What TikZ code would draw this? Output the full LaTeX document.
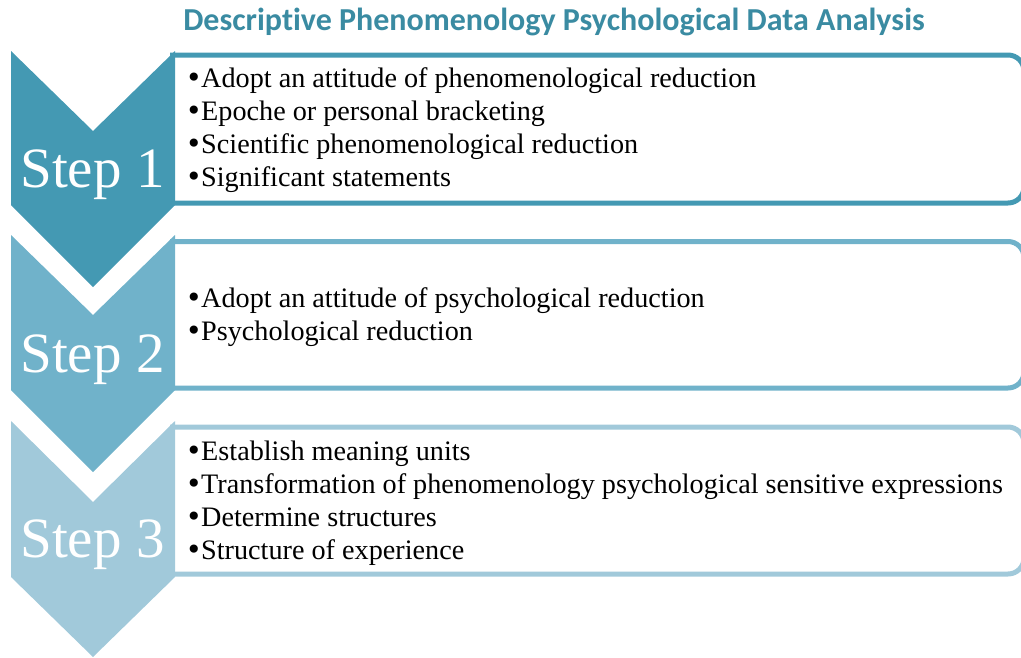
\documentclass[tikz,border=0pt]{standalone}
\usepackage{fontspec}
\setmainfont{Liberation Serif}
\newfontfamily\titlefont[Ligatures=NoCommon]{Carlito}
\newfontfamily\bulletfont{DejaVu Sans}
\newcommand\mybul{\kern-1.5pt{\bulletfont\fontsize{28}{28}\selectfont •}\kern-1pt}
\definecolor{c1}{HTML}{4499B3}
\definecolor{c2}{HTML}{70B2CA}
\definecolor{c3}{HTML}{A1C9DA}
\definecolor{ctitle}{HTML}{3A8BA2}
\begin{document}
\begin{tikzpicture}[x=1pt,y=-1pt,
  box/.style={line width=5pt, fill=white, rounded corners=16pt},
  item/.style={anchor=base west, inner sep=0pt, font=\fontsize{28.2}{33}\selectfont},
  steplbl/.style={text=white, inner sep=0pt, anchor=base, font=\fontsize{57}{60}\selectfont},
  titlelbl/.style={text=ctitle, inner sep=0pt, anchor=base, font=\titlefont\bfseries\fontsize{32}{34}\selectfont}]
\useasboundingbox (0,0) rectangle (1021,657);
\node[titlelbl] (title) at (554,30) {Descriptive Phenomenology Psychological Data Analysis};
% boxes (open on the left, under the chevrons)
\filldraw[box, draw=c1] (170,55) -- (1024,55) -- (1024,203) -- (170,203);
\filldraw[box, draw=c2] (170,241.5) -- (1024,241.5) -- (1024,388) -- (170,388);
\filldraw[box, draw=c3] (170,427) -- (1024,427) -- (1024,574) -- (170,574);
% chevrons
\fill[c1] (11,51) -- (93,131) -- (175,51) -- (175,205) -- (93,287) -- (11,205) -- cycle;
\fill[c2] (11,235) -- (93,315) -- (175,235) -- (175,390) -- (93,472) -- (11,390) -- cycle;
\fill[c3] (11,421) -- (93,502) -- (175,421) -- (175,577) -- (93,657) -- (11,577) -- cycle;
% step labels
\node[steplbl] (s1) at (92.5,187) {Step 1};
\node[steplbl] (s2) at (92.5,372) {Step 2};
\node[steplbl] (s3) at (92.5,557) {Step 3};
% items
\node[item] (a1) at (187,87) {\mybul Adopt an attitude of phenomenological reduction};
\node[item] (a2) at (187,120) {\mybul Epoche or personal bracketing};
\node[item] (a3) at (187,153) {\mybul Scientific phenomenological reduction};
\node[item] (a4) at (187,186) {\mybul Significant statements};
\node[item] (b1) at (187,307) {\mybul Adopt an attitude of psychological reduction};
\node[item] (b2) at (187,340) {\mybul Psychological reduction};
\node[item] (c1n) at (187,460) {\mybul Establish meaning units};
\node[item] (c2n) at (187,493) {\mybul Transformation of phenomenology psychological sensitive expressions};
\node[item] (c3n) at (187,526) {\mybul Determine structures};
\node[item] (c4n) at (187,559) {\mybul Structure of experience};
\end{tikzpicture}
\end{document}
